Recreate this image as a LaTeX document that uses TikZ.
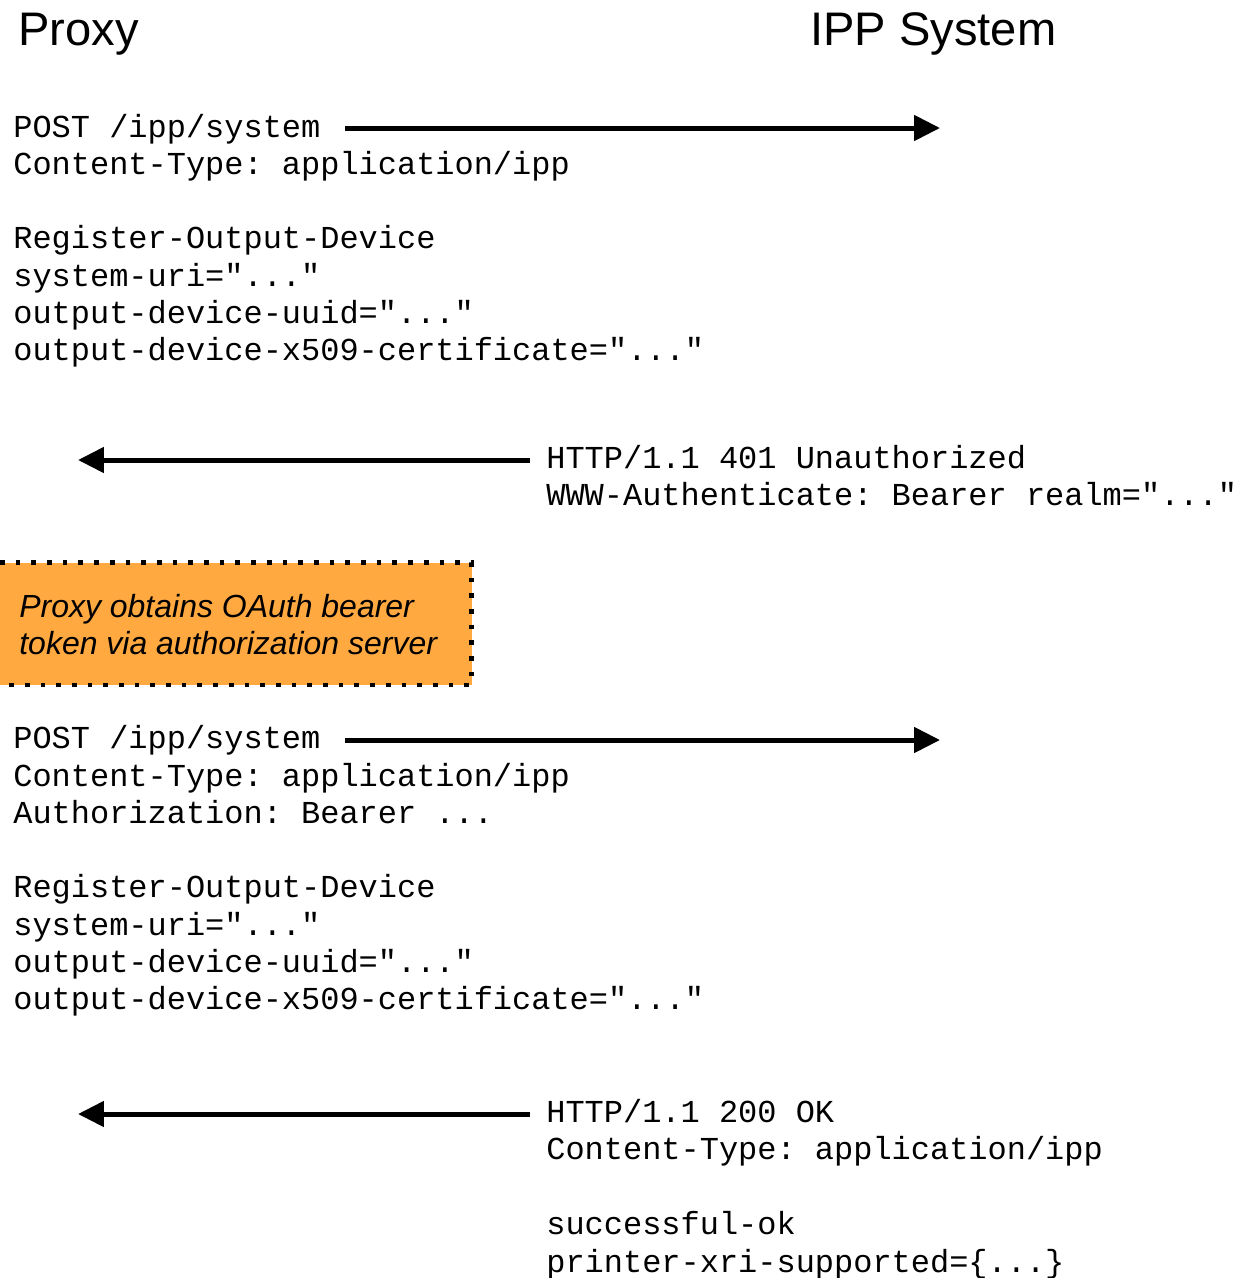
\documentclass[tikz,border=0pt]{standalone}
\usepackage{fontspec}
\setmainfont{Liberation Sans}
\setmonofont{Liberation Mono}
\usetikzlibrary{arrows.meta}
\definecolor{boxorange}{RGB}{255,169,64}
\tikzset{
  msg/.style={anchor=base west, inner sep=0pt, align=left, font=\ttfamily\fontsize{18.2}{21.2}\selectfont},
  flow/.style={-{Triangle[length=0.52cm,width=0.5cm]}, line width=0.1cm},
  party/.style={anchor=base west, inner sep=0pt, font=\fontsize{26.8}{32}\selectfont}
}
\begin{document}
\begin{tikzpicture}[x=0.02cm,y=-0.02cm]
  \useasboundingbox (0,0) rectangle (1236,1278);
  \node[party] (P) at (18,45) {Proxy};
  \node[party] (S) at (810,45) {IPP System};
  % first request (base = last line)
  \node[msg] (R1) at (13,360.5) {POST /ipp/system\\
    Content-Type: application/ipp\\[21.2pt]
    Register-Output-Device\\
    system-uri="..."\\
    output-device-uuid="..."\\
    output-device-x509-certificate="..."};
  \coordinate (a1) at (345,128);
  \coordinate (b1) at (940,128);
  \draw[flow] (a1) -- (b1);
  % 401
  \node[msg] (A1) at (546,505.5) {HTTP/1.1 401 Unauthorized\\
    WWW-Authenticate: Bearer realm="..."};
  \coordinate (a2) at (530,460);
  \coordinate (b2) at (78,460);
  \draw[flow] (a2) -- (b2);
  % oauth step
  \fill[boxorange] (0,562.5) rectangle (471.5,685);
  \draw[line width=0.094cm, dash pattern=on 0.094cm off 0.22cm] (0,562.5) -- (471.5,562.5) -- (471.5,685) -- (0,685);
  \node[anchor=base west, inner sep=0pt, align=left, font=\itshape\fontsize{18.2}{21.2}\selectfont] (T) at (19,654.5)
    {Proxy obtains OAuth bearer\\token via authorization server};
  % second request
  \node[msg] (R2) at (13,1009.5) {POST /ipp/system\\
    Content-Type: application/ipp\\
    Authorization: Bearer ...\\[21.2pt]
    Register-Output-Device\\
    system-uri="..."\\
    output-device-uuid="..."\\
    output-device-x509-certificate="..."};
  \coordinate (a3) at (345,740);
  \coordinate (b3) at (940,740);
  \draw[flow] (a3) -- (b3);
  % 200
  \node[msg] (A2) at (546,1272) {HTTP/1.1 200 OK\\
    Content-Type: application/ipp\\[21.4pt]
    successful-ok\\
    printer-xri-supported=\{...\}};
  \coordinate (a4) at (530,1114);
  \coordinate (b4) at (78,1114);
  \draw[flow] (a4) -- (b4);
\end{tikzpicture}
\end{document}
